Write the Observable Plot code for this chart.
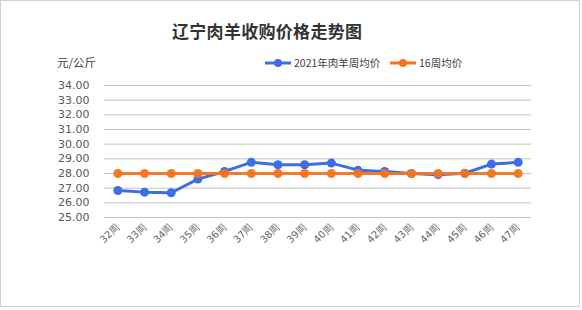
<!DOCTYPE html>
<html><head><meta charset="utf-8">
<script src="https://cdn.jsdelivr.net/npm/d3@7"></script>
<script src="https://cdn.jsdelivr.net/npm/@observablehq/plot@0.6"></script>
<style>
body{margin:0;background:#fff;font-family:"Noto Sans CJK SC","DejaVu Sans",sans-serif;}
#wrap{position:absolute;left:0;top:0;width:578px;height:305px;border:1px solid #cfcfcf;background:#fff;overflow:hidden;}
#title{position:absolute;left:171px;top:17px;font-size:17px;font-weight:bold;color:#333;letter-spacing:0.3px;white-space:nowrap;}
#unit{position:absolute;left:56px;top:53px;font-size:11.5px;color:#404040;}
.leg{position:absolute;top:54px;font-size:10.5px;color:#404040;white-space:nowrap;display:flex;align-items:center;}
.leg svg{margin-right:3px;}
#plot{position:absolute;left:0;top:70px;}
</style></head><body>
<div id="wrap">
<div id="title">辽宁肉羊收购价格走势图</div>
<div id="unit">元/公斤</div>
<div class="leg" style="left:264px"><svg width="26" height="10"><line x1="0" x2="26" y1="5" y2="5" stroke="#3d6ee8" stroke-width="3"/><circle cx="13" cy="5" r="4" fill="#3d6ee8"/></svg>2021年肉羊周均价</div>
<div class="leg" style="left:389px"><svg width="26" height="10"><line x1="0" x2="26" y1="5" y2="5" stroke="#f5741a" stroke-width="3"/><circle cx="13" cy="5" r="4" fill="#f5741a"/></svg>16周均价</div>
<div id="plot"></div>
</div>
<script>
const weeks = ["32周","33周","34周","35周","36周","37周","38周","39周","40周","41周","42周","43周","44周","45周","46周","47周"];
const price2021 = [26.84,26.73,26.69,27.62,28.14,28.76,28.60,28.60,28.71,28.23,28.14,28.00,27.92,28.02,28.64,28.76];
const avg16 = [28,28,28,28,28,28,28,28,28,28,28,28,28,28,28,28];
const yTicks = [25,26,27,28,29,30,31,32,33,34];

const blue = "#3d6ee8", orange = "#f5741a";
const s1 = weeks.map((w,i)=>({week:w, v:price2021[i]}));
const s2 = weeks.map((w,i)=>({week:w, v:avg16[i]}));

const chart = Plot.plot({
  width: 578, height: 200,
  marginLeft: 103, marginRight: 48, marginTop: 14, marginBottom: 54,
  style: {fontFamily: '"DejaVu Sans", sans-serif', fontSize: "11px", color: "#595959", background: "transparent"},
  x: {type: "point", domain: weeks, padding: 0.5, round: false, label: null},
  y: {domain: [25, 34], label: null},
  marks: [
    Plot.ruleY(yTicks, {stroke: "#c4c4c4", strokeWidth: 1}),
    Plot.axisY(yTicks, {tickSize: 0, tickPadding: 15, tickFormat: d => d.toFixed(2), fontSize: 11, fill: "#595959"}),
    Plot.axisX({tickSize: 0, tickPadding: 8, tickRotate: -45, fontSize: 10, fill: "#666"}),
    Plot.line(s1, {x: "week", y: "v", stroke: blue, strokeWidth: 3}),
    Plot.dot(s1, {x: "week", y: "v", r: 4.5, fill: blue}),
    Plot.line(s2, {x: "week", y: "v", stroke: orange, strokeWidth: 3, strokeOpacity: 0.95}),
    Plot.dot(s2, {x: "week", y: "v", r: 4.5, fill: orange, fillOpacity: 0.95})
  ]
});
document.getElementById("plot").appendChild(chart);
</script>
</body></html>
